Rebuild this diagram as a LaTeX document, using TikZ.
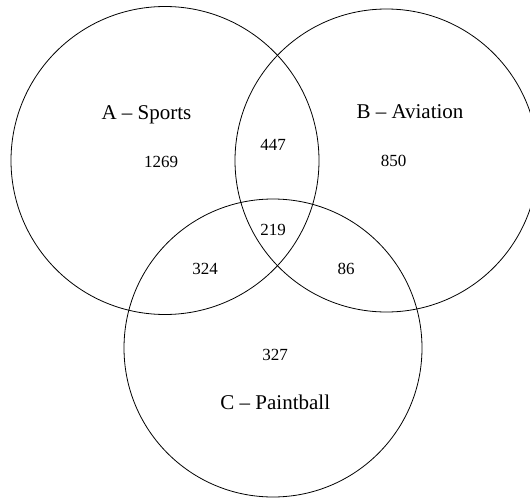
\documentclass[tikz,border=0pt]{standalone}
\usepackage{fontspec}
\setmainfont{Liberation Serif}
\usepackage{tikz}
\usetikzlibrary{positioning}

\begin{document}
\begin{tikzpicture}[
  x=1pt, y=-1pt,
  venn/.style={draw, circle, line width=0.8pt, inner sep=0pt},
  setname/.style={anchor=base, inner sep=0pt, font=\fontsize{21}{24}\selectfont},
  num/.style={anchor=base, inner sep=0pt, font=\fontsize{17}{20}\selectfont}
]
\useasboundingbox (0,0) rectangle (530,498);
\node[venn, minimum size=308pt] (sports) at (165,160.5) {};
\node[venn, minimum size=303pt] (aviation) at (386.5,160.5) {};
\node[venn, minimum size=298pt] (paint) at (273,348) {};
\node[setname] (lsports) at (146.5,119) {A -- Sports};
\node[setname] (laviation) at (410,118.5) {B -- Aviation};
\node[setname] (lpaint) at (275.3,409) {C -- Paintball};
\node[num] (nA) at (161,167) {1269};
\node[num] (nAB) at (273,150) {447};
\node[num] (nB) at (393.7,166) {850};
\node[num] (nABC) at (273,235) {219};
\node[num] (nAC) at (205,274) {324};
\node[num] (nBC) at (346,274) {86};
\node[num] (nC) at (275,360) {327};
\end{tikzpicture}
\end{document}
